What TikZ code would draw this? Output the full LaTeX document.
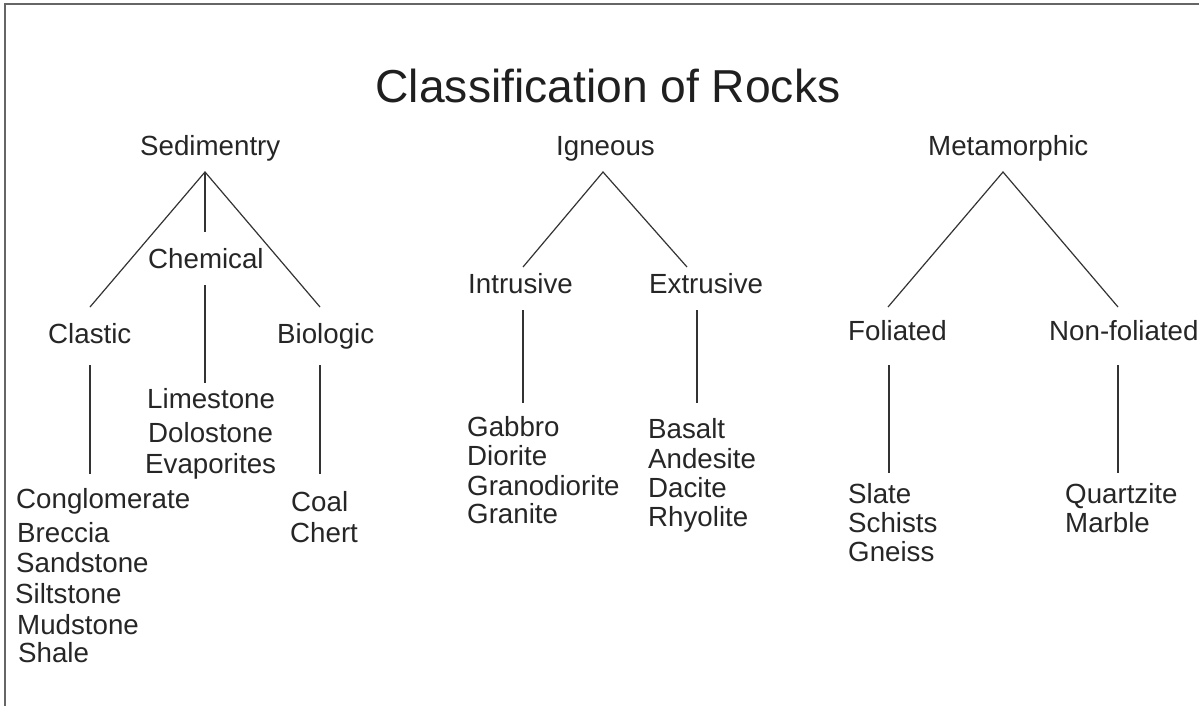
\documentclass[tikz,border=0pt]{standalone}
\usepackage{fontspec}
\setmainfont{Liberation Sans}
\begin{document}
\begin{tikzpicture}[x=1pt,y=-1pt,
  lbl/.style={inner sep=0pt, anchor=base west, text=black!85, font=\fontsize{27.7}{30}\selectfont},
  ttl/.style={inner sep=0pt, anchor=base, text=black!88, font=\fontsize{46.2}{50}\selectfont},
  conn/.style={draw=black!80, line width=1.2pt},
  frame/.style={draw=black!60, line width=2pt}]
\useasboundingbox (0,0) rectangle (1199,706);
\fill[white] (0,0) rectangle (1199,706);
% frame (top and left edges visible)
\coordinate (fTL) at (5,4);
\coordinate (fTR) at (1205,4);
\coordinate (fBL) at (5,712);
\draw[frame] (fBL) -- (fTL) -- (fTR);
% title
\node[ttl] (title) at (608,103) {Classification of Rocks};
% level 1
\node[lbl] (sed) at (140,155) {Sedimentry};
\node[lbl] (ign) at (556,155) {Igneous};
\node[lbl] (met) at (928,156) {Metamorphic};
% sedimentary branch
\node[lbl] (che) at (148,268) {Chemical};
\node[lbl] (cla) at (48,343) {Clastic};
\node[lbl] (bio) at (277,343) {Biologic};
\node[lbl] (lim) at (147,408) {Limestone};
\node[lbl] (dol) at (148,442) {Dolostone};
\node[lbl] (eva) at (145,473) {Evaporites};
\node[lbl] (con) at (16,508) {Conglomerate};
\node[lbl] (bre) at (17,542) {Breccia};
\node[lbl] (san) at (16,572) {Sandstone};
\node[lbl] (sil) at (15,603) {Siltstone};
\node[lbl] (mud) at (17,634) {Mudstone};
\node[lbl] (sha) at (18,662) {Shale};
\node[lbl] (coa) at (291,511) {Coal};
\node[lbl] (che2) at (290,542) {Chert};
% igneous branch
\node[lbl] (int) at (468,293) {Intrusive};
\node[lbl] (ext) at (649,293) {Extrusive};
\node[lbl] (gab) at (467,436) {Gabbro};
\node[lbl] (dio) at (467,465) {Diorite};
\node[lbl] (grd) at (467,495) {Granodiorite};
\node[lbl] (gra) at (467,523) {Granite};
\node[lbl] (bas) at (648,438) {Basalt};
\node[lbl] (and) at (648,468) {Andesite};
\node[lbl] (dac) at (648,497) {Dacite};
\node[lbl] (rhy) at (648,526) {Rhyolite};
% metamorphic branch
\node[lbl] (fol) at (848,340) {Foliated};
\node[lbl] (nfo) at (1049,340) {Non-foliated};
\node[lbl] (sla) at (848,503) {Slate};
\node[lbl] (sch) at (848,532) {Schists};
\node[lbl] (gne) at (848,561) {Gneiss};
\node[lbl] (qua) at (1065,503) {Quartzite};
\node[lbl] (mar) at (1065,532) {Marble};
% connector end points
\coordinate (sedA) at (205,172);
\coordinate (cheT) at (205,232);
\coordinate (claT) at (90,307);
\coordinate (bioT) at (320,307);
\coordinate (cheB) at (205,285);
\coordinate (limT) at (205,383);
\coordinate (claB) at (90,365);
\coordinate (conT) at (90,474);
\coordinate (bioB) at (320,365);
\coordinate (coaT) at (320,474);
\coordinate (ignA) at (603,172);
\coordinate (intT) at (523,267);
\coordinate (extT) at (687,267);
\coordinate (intB) at (523,310);
\coordinate (gabT) at (523,403);
\coordinate (extB) at (697,310);
\coordinate (basT) at (697,403);
\coordinate (metA) at (1003,172);
\coordinate (folT) at (888,307);
\coordinate (nfoT) at (1118,307);
\coordinate (folB) at (889,365);
\coordinate (slaT) at (889,473);
\coordinate (nfoB) at (1118,365);
\coordinate (quaT) at (1118,473);
% connectors
\draw[conn] (claT) -- (sedA) -- (bioT);
\draw[conn] (sedA) -- (cheT);
\draw[conn] (cheB) -- (limT);
\draw[conn] (claB) -- (conT);
\draw[conn] (bioB) -- (coaT);
\draw[conn] (intT) -- (ignA) -- (extT);
\draw[conn] (intB) -- (gabT);
\draw[conn] (extB) -- (basT);
\draw[conn] (folT) -- (metA) -- (nfoT);
\draw[conn] (folB) -- (slaT);
\draw[conn] (nfoB) -- (quaT);
\end{tikzpicture}
\end{document}
